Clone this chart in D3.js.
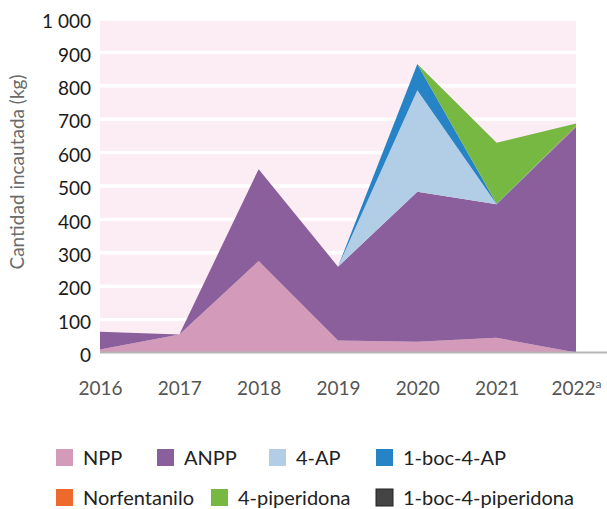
<!DOCTYPE html>
<html>
<head>
<meta charset="utf-8">
<script src="https://cdn.jsdelivr.net/npm/d3@7"></script>
<style>
  body { margin: 0; background: #fff; }
  svg text { font-family: Lato, "Noto Sans", sans-serif; }
</style>
</head>
<body>
<svg id="chart"></svg>
<script>
// years and values (kg)
var years = ['2016', '2017', '2018', '2019', '2020', '2021', '2022'];
var yearNotes = ['', '', '', '', '', '', 'a'];
var npp = [9, 54, 274, 36, 32, 44, 0];
var anpp = [53, 0, 275, 221, 449, 400, 675];
var ap4 = [0, 0, 0, 0, 304, 0, 0];
var boc4ap = [0, 0, 0, 0, 79, 1, 2];
var norfentanilo = [0, 0, 0, 0, 0, 0, 2];
var piperidona = [0, 0, 0, 0, 0, 183, 7];
var bocPiperidona = [0, 0, 0, 0, 0, 0, 0];

var seriesNames = ['NPP', 'ANPP', '4-AP', '1-boc-4-AP', 'Norfentanilo', '4-piperidona', '1-boc-4-piperidona'];
var seriesValues = [npp, anpp, ap4, boc4ap, norfentanilo, piperidona, bocPiperidona];
var seriesColors = ['#d39aba', '#8a5f9b', '#b2cee6', '#2683c6', '#ee6a2c', '#77b843', '#444444'];
var yTicks = [0, 100, 200, 300, 400, 500, 600, 700, 800, 900, 1000];

var W = 607, H = 509;
var plot = { left: 100, right: 576, top: 18.5, bottom: 352.5 };

var svg = d3.select('#chart').attr('width', W).attr('height', H);

// table for d3.stack
var table = years.map(function (y, i) {
    var row = { year: y };
    seriesNames.forEach(function (k, j) { row[k] = seriesValues[j][i]; });
    return row;
});

var x = d3.scalePoint().domain(years).range([plot.left, plot.right]);
var y = d3.scaleLinear().domain([0, 1000]).range([plot.bottom, plot.top]);
var color = d3.scaleOrdinal().domain(seriesNames).range(seriesColors);

// background
svg.append('rect')
    .attr('x', plot.left).attr('y', plot.top)
    .attr('width', plot.right - plot.left).attr('height', plot.bottom - plot.top)
    .attr('fill', '#fcedf4');

// white gridlines
svg.append('g')
    .attr('transform', `translate(${plot.left},0)`)
    .call(d3.axisLeft(y).tickValues(yTicks).tickSize(-(plot.right - plot.left)).tickFormat(''))
    .call(g => g.select('.domain').remove())
    .call(g => g.selectAll('line').attr('stroke', '#fff').attr('stroke-width', 3.4));

// stacked areas
var stack = d3.stack().keys(seriesNames);
var layers = stack(table);
var area = d3.area()
    .x(d => x(d.data.year))
    .y0(d => y(d[0]))
    .y1(d => y(d[1]));

svg.append('g').selectAll('path')
    .data(layers)
    .join('path')
    .attr('d', area)
    .attr('fill', d => color(d.key));

// baseline
svg.append('line')
    .attr('x1', plot.left).attr('x2', W)
    .attr('y1', plot.bottom).attr('y2', plot.bottom)
    .attr('stroke', '#b5b5b5').attr('stroke-width', 2);

// y axis labels
var fmt = d3.formatLocale({ decimal: ',', thousands: ' ', grouping: [3], currency: ['', ''] }).format(',d');
svg.append('g')
    .attr('transform', `translate(${plot.left},0)`)
    .call(d3.axisLeft(y).tickValues(yTicks).tickSize(0).tickPadding(9).tickFormat(fmt))
    .call(g => g.select('.domain').remove())
    .call(g => g.selectAll('text')
        .attr('font-size', 19)
        .attr('font-family', 'Lato, sans-serif')
        .attr('fill', '#1a1a1a')
        .attr('dy', '0.48em'));

// x axis labels
var xAxis = svg.append('g')
    .attr('transform', `translate(0,${plot.bottom})`)
    .call(d3.axisBottom(x).tickSize(0).tickPadding(29))
    .call(g => g.select('.domain').remove());
xAxis.selectAll('text')
    .attr('font-size', 19)
    .attr('font-family', 'Lato, sans-serif')
    .attr('fill', '#555')
    .attr('dy', '0.71em')
    .each(function (d, i) {
        if (yearNotes[i]) {
            d3.select(this).append('tspan')
                .attr('font-size', 12)
                .attr('dy', '-0.6em')
                .text(yearNotes[i]);
        }
    });

// y axis title
svg.append('text')
    .attr('transform', 'translate(24,172) rotate(-90)')
    .attr('text-anchor', 'middle')
    .attr('font-size', 19)
    .attr('fill', '#6b6b6b')
    .text('Cantidad incautada (kg)');

// legend
var legendPos = [
    [56, 449], [157, 449], [269, 449], [376, 449],
    [56, 489], [211, 489], [376, 489]
];
var legend = svg.append('g').selectAll('g')
    .data(seriesNames)
    .join('g')
    .attr('transform', (d, i) => `translate(${legendPos[i][0]},${legendPos[i][1]})`);
legend.append('rect')
    .attr('width', 17).attr('height', 17)
    .attr('fill', d => color(d))
    .attr('stroke', d => d === '1-boc-4-piperidona' ? '#222' : 'none')
    .attr('stroke-width', 1);
legend.append('text')
    .attr('x', 27).attr('y', 16)
    .attr('font-size', 20)
    .attr('fill', '#222')
    .text(d => d);
</script>
</body>
</html>
